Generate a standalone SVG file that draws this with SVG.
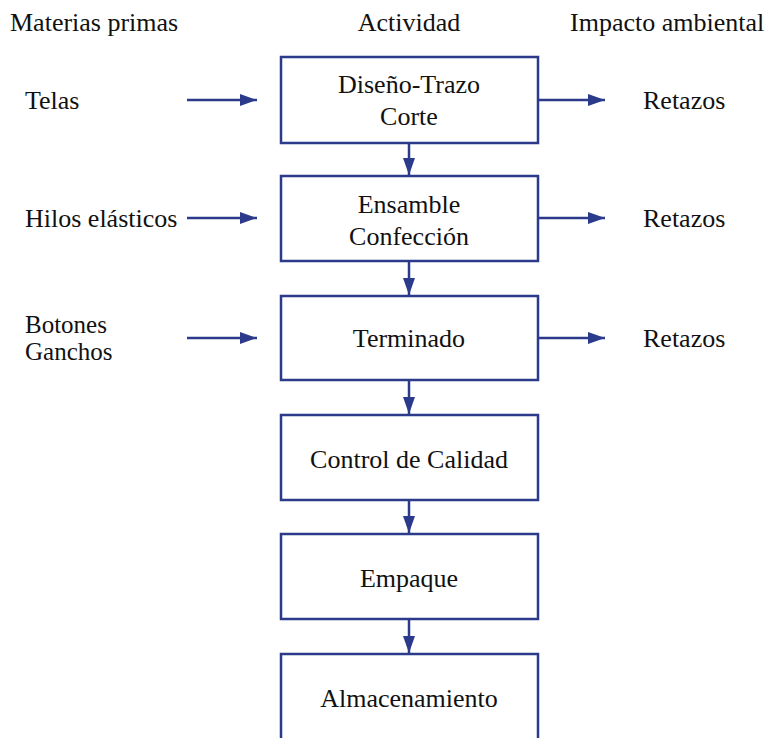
<svg xmlns="http://www.w3.org/2000/svg" width="773" height="738" viewBox="0 0 773 738">
<style>
.t{font-family:"Liberation Serif","Times New Roman",serif;font-size:26px;fill:#111}
.s{font-size:25px}
.m{text-anchor:middle}
.box{fill:#fff;stroke:#2b3a8a;stroke-width:2.5}
.ln{stroke:#2b3a8a;stroke-width:2.5;fill:none}
</style>
<defs>
<marker id="ah" viewBox="0 0 17 12" refX="17" refY="6" markerWidth="17" markerHeight="12" markerUnits="userSpaceOnUse" orient="auto">
<path d="M0,0 L17,6 L0,12 z" fill="#2b3a8a"/>
</marker>
</defs>
<g id="headers">
<text class="t" x="10" y="31">Materias primas</text>
<text class="t m" x="409" y="31">Actividad</text>
<text class="t" x="570" y="31">Impacto ambiental</text>
</g>
<g id="n1"><rect class="box" x="281" y="57" width="257" height="86"/>
<text class="t m" x="409" y="93">Diseño-Trazo</text><text class="t m" x="409" y="125">Corte</text></g>
<g id="n2"><rect class="box" x="281" y="176" width="257" height="85"/>
<text class="t m" x="409" y="213">Ensamble</text><text class="t m" x="409" y="245">Confección</text></g>
<g id="n3"><rect class="box" x="281" y="296" width="257" height="84"/>
<text class="t m" x="409" y="347">Terminado</text></g>
<g id="n4"><rect class="box" x="281" y="415" width="257" height="85"/>
<text class="t m" x="409" y="468">Control de Calidad</text></g>
<g id="n5"><rect class="box" x="281" y="534" width="257" height="85"/>
<text class="t m" x="409" y="587">Empaque</text></g>
<g id="n6"><rect class="box" x="281" y="654" width="257" height="90"/>
<text class="t m" x="409" y="707">Almacenamiento</text></g>
<g id="inputs">
<text class="t" x="25" y="109">Telas</text>
<text class="t" x="25" y="227">Hilos elásticos</text>
<text class="t s" x="25" y="333">Botones</text>
<text class="t s" x="25" y="360">Ganchos</text>
</g>
<g id="outputs">
<text class="t" x="643" y="109">Retazos</text>
<text class="t" x="643" y="227">Retazos</text>
<text class="t" x="643" y="347">Retazos</text>
</g>
<g id="connectors">
<line class="ln" x1="187" y1="100" x2="257" y2="100" marker-end="url(#ah)"/>
<line class="ln" x1="187" y1="218" x2="257" y2="218" marker-end="url(#ah)"/>
<line class="ln" x1="187" y1="338" x2="257" y2="338" marker-end="url(#ah)"/>
<line class="ln" x1="538" y1="100" x2="605" y2="100" marker-end="url(#ah)"/>
<line class="ln" x1="538" y1="218" x2="605" y2="218" marker-end="url(#ah)"/>
<line class="ln" x1="538" y1="338" x2="605" y2="338" marker-end="url(#ah)"/>
<line class="ln" x1="409" y1="144" x2="409" y2="175" marker-end="url(#ah)"/>
<line class="ln" x1="409" y1="262" x2="409" y2="295" marker-end="url(#ah)"/>
<line class="ln" x1="409" y1="381" x2="409" y2="414" marker-end="url(#ah)"/>
<line class="ln" x1="409" y1="501" x2="409" y2="533" marker-end="url(#ah)"/>
<line class="ln" x1="409" y1="620" x2="409" y2="653" marker-end="url(#ah)"/>
</g>
</svg>
